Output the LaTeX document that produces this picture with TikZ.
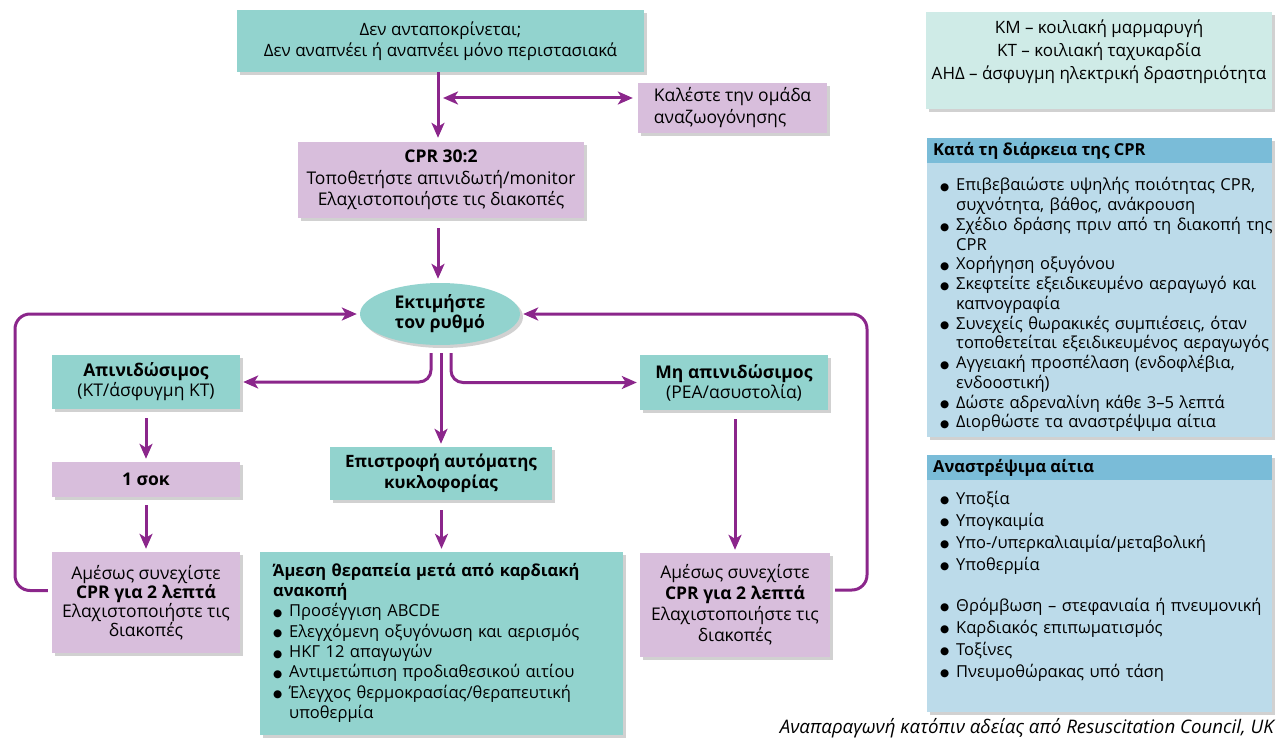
\documentclass[tikz,border=0pt]{standalone}
\usepackage{fontspec}
\usepackage{graphicx}
\setmainfont{Open Sans}
\newfontfamily\symfont{DejaVu Sans}
\usetikzlibrary{arrows.meta,shapes.geometric,shadows,calc}
\definecolor{tealc}{RGB}{146,211,206}
\definecolor{purpc}{RGB}{216,190,220}
\definecolor{legc}{RGB}{207,235,231}
\definecolor{panelc}{RGB}{188,219,234}
\definecolor{headc}{RGB}{122,188,216}
\definecolor{arrc}{RGB}{139,38,139}
\newcommand{\bdot}{\raisebox{0.3pt}{\symfont\fontsize{10.5}{10}\selectfont ●}}
\newcommand{\bitem}[1]{\par\noindent\makebox[16pt][l]{\bdot}#1}
\newcommand{\bcont}[1]{\par\noindent\hspace*{16pt}#1}
\newcommand{\fs}[2]{\fontsize{#1}{#2}\selectfont}
\tikzset{
  >={Stealth[length=15pt,width=13pt,inset=4pt]},
  shbox/.style={inner sep=0pt, drop shadow={shadow xshift=3pt,shadow yshift=-3pt,fill=black,opacity=0.18}},
  tbox/.style={shbox, fill=tealc},
  pbox/.style={shbox, fill=purpc},
  txt/.style={font=\fs{17.5}{20}, align=center},
  conn/.style={draw=arrc, line width=3pt, ->, rounded corners=12pt, shorten >=3pt},
  plist/.style={anchor=north west, inner sep=0pt, text width=345pt, align=left},
}
\begin{document}
\begin{tikzpicture}[x=1pt,y=-1pt]
\useasboundingbox (0,0) rectangle (1276,738);
% flowchart boxes
\node[tbox, txt, minimum width=407pt, minimum height=62pt, font=\fs{17}{21.5}] (top) at (440.5,41) {Δεν ανταποκρίνεται;\\Δεν αναπνέει ή αναπνέει μόνο περιστασιακά};
\node[pbox, txt, align=left, minimum width=189pt, minimum height=50pt, font=\fs{17.5}{22}] (call) at (732.5,108) {Καλέστε την ομάδα\\αναζωογόνησης};
\node[pbox, txt, minimum width=286pt, minimum height=76pt, font=\fs{17.5}{21.5}] (cpr) at (441,180) {\textbf{CPR 30:2}\\Τοποθετήστε απινιδωτή/monitor\\Ελαχιστοποιήστε τις διακοπές};
\node[ellipse, tbox, txt, minimum width=160pt, minimum height=62pt, font=\bfseries\fs{17.5}{20}] (ell) at (440,314) {Εκτιμήστε\\τον ρυθμό};
\node[tbox, txt, minimum width=188pt, minimum height=54pt] (shock) at (146,382) {\textbf{Απινιδώσιμος}\\(ΚΤ/άσφυγμη ΚΤ)};
\node[tbox, txt, minimum width=188pt, minimum height=55pt] (nonshock) at (734,382.5) {\textbf{Μη απινιδώσιμος}\\(PEA/ασυστολία)};
\node[pbox, txt, minimum width=188pt, minimum height=35pt, font=\bfseries\fs{17.5}{20}] (onesok) at (146,479.5) {1 σοκ};
\node[tbox, txt, minimum width=222pt, minimum height=53pt, font=\bfseries\fs{17}{21}] (rosc) at (441,473.5) {Επιστροφή αυτόματης\\κυκλοφορίας};
\node[pbox, txt, minimum width=188pt, minimum height=101pt, font=\fs{17.5}{19}] (cprL) at (146,602.5) {Αμέσως συνεχίστε\\\textbf{CPR για 2 λεπτά}\\Ελαχιστοποιήστε τις\\διακοπές};
\node[pbox, txt, minimum width=190pt, minimum height=104pt, font=\fs{17.5}{21}] (cprR) at (735,605) {Αμέσως συνεχίστε\\\textbf{CPR για 2 λεπτά}\\Ελαχιστοποιήστε τις\\διακοπές};
\node[tbox, minimum width=363pt, minimum height=183pt] (post) at (441.5,643.5) {};
\node[plist, font=\fs{16.5}{20.3}] (posttxt) at (273,563)
{\textbf{Άμεση θεραπεία μετά από καρδιακή}\par\noindent\textbf{ανακοπή}%
\bitem{Προσέγγιση ABCDE}%
\bitem{Ελεγχόμενη οξυγόνωση και αερισμός}%
\bitem{ΗΚΓ 12 απαγωγών}%
\bitem{Αντιμετώπιση προδιαθεσικού αιτίου}%
\bitem{Έλεγχος θερμοκρασίας/θεραπευτική}%
\bcont{υποθερμία}};
% right panels
\node[shbox, fill=legc, minimum width=346pt, minimum height=97pt] (leg) at (1099,60.5) {};
\node[txt, inner sep=0pt, font=\fs{17}{23}] (legt) at (1099,52) {ΚΜ – κοιλιακή μαρμαρυγή\\ΚΤ – κοιλιακή ταχυκαρδία\\ΑΗΔ – άσφυγμη ηλεκτρική δραστηριότητα};
\node[shbox, fill=panelc, minimum width=345pt, minimum height=299pt] (p1) at (1099.5,287.5) {};
\fill[headc] (p1.north west) rectangle ($(p1.north east)+(0,25)$);
\node[anchor=west, inner sep=0pt, font=\bfseries\fs{16.5}{19}] (p1h) at (933,151) {Κατά τη διάρκεια της CPR};
\node[plist, font=\fs{16.5}{19.75}] (p1t) at (940,171)
{\bitem{Επιβεβαιώστε υψηλής ποιότητας CPR,}%
\bcont{συχνότητα, βάθος, ανάκρουση}%
\bitem{Σχέδιο δράσης πριν από τη διακοπή της}%
\bcont{CPR}%
\bitem{Χορήγηση οξυγόνου}%
\bitem{Σκεφτείτε εξειδικευμένο αεραγωγό και}%
\bcont{καπνογραφία}%
\bitem{Συνεχείς θωρακικές συμπιέσεις, όταν}%
\bcont{τοποθετείται εξειδικευμένος αεραγωγός}%
\bitem{Αγγειακή προσπέλαση (ενδοφλέβια,}%
\bcont{ενδοοστική)}%
\bitem{Δώστε αδρεναλίνη κάθε 3–5 λεπτά}%
\bitem{Διορθώστε τα αναστρέψιμα αίτια}};
\node[shbox, fill=panelc, minimum width=345pt, minimum height=257pt] (p2) at (1099.5,583.5) {};
\fill[headc] (p2.north west) rectangle ($(p2.north east)+(0,25)$);
\node[anchor=west, inner sep=0pt, font=\bfseries\fs{16.5}{19}] (p2h) at (933,468) {Αναστρέψιμα αίτια};
\node[plist, font=\fs{16.5}{22}] (p2t) at (940,482)
{\bitem{Υποξία}%
\bitem{Υπογκαιμία}%
\bitem{Υπο-/υπερκαλιαιμία/μεταβολική}%
\bitem{Υποθερμία}\par\vspace{19pt}%
\bitem{Θρόμβωση – στεφανιαία ή πνευμονική}%
\bitem{Καρδιακός επιπωματισμός}%
\bitem{Τοξίνες}%
\bitem{Πνευμοθώρακας υπό τάση}};
\node[anchor=east, inner sep=0pt, font=\itshape\fs{18.7}{20}] (cap) at (1274,728) {Αναπαραγωνή κατόπιν αδείας από Resuscitation Council, UK};
% connectors
\coordinate (vx) at (438,0);
\draw[conn, shorten >=4pt] (top.south -| vx) -- (cpr.north -| vx);
\coordinate (j) at (438,98);
\draw[conn, <->, shorten <=5pt, shorten >=5pt] (j) -- (j -| call.west);
\draw[conn, shorten <=10pt, shorten >=4pt] (cpr.south -| vx) -- (ell.north -| vx);
\draw[conn] ($(ell.south)+(-9,8)$) |- (shock.east);
\draw[conn] ($(ell.south)+(1,8)$) -- (rosc.north);
\draw[conn] ($(ell.south)+(11,8)$) |- (nonshock.west);
\draw[conn, shorten <=9pt] (shock.south) -- (onesok.north);
\draw[conn, shorten <=8pt] (onesok.south) -- (cprL.north);
\draw[conn, shorten <=10pt] (rosc.south -| post.north) -- (post.north);
\draw[conn, shorten <=9pt] (nonshock.south -| cprR.north) -- (cprR.north);
\coordinate (lc) at (15,314);
\coordinate (rc) at (867,314);
\draw[conn, rounded corners=15pt] ($(cprL.west)+(-4,-12)$) -| (lc) -- (ell.west);
\draw[conn, rounded corners=15pt] ($(cprR.east)+(5,-15)$) -| (rc) -- (ell.east);
\end{tikzpicture}
\end{document}
